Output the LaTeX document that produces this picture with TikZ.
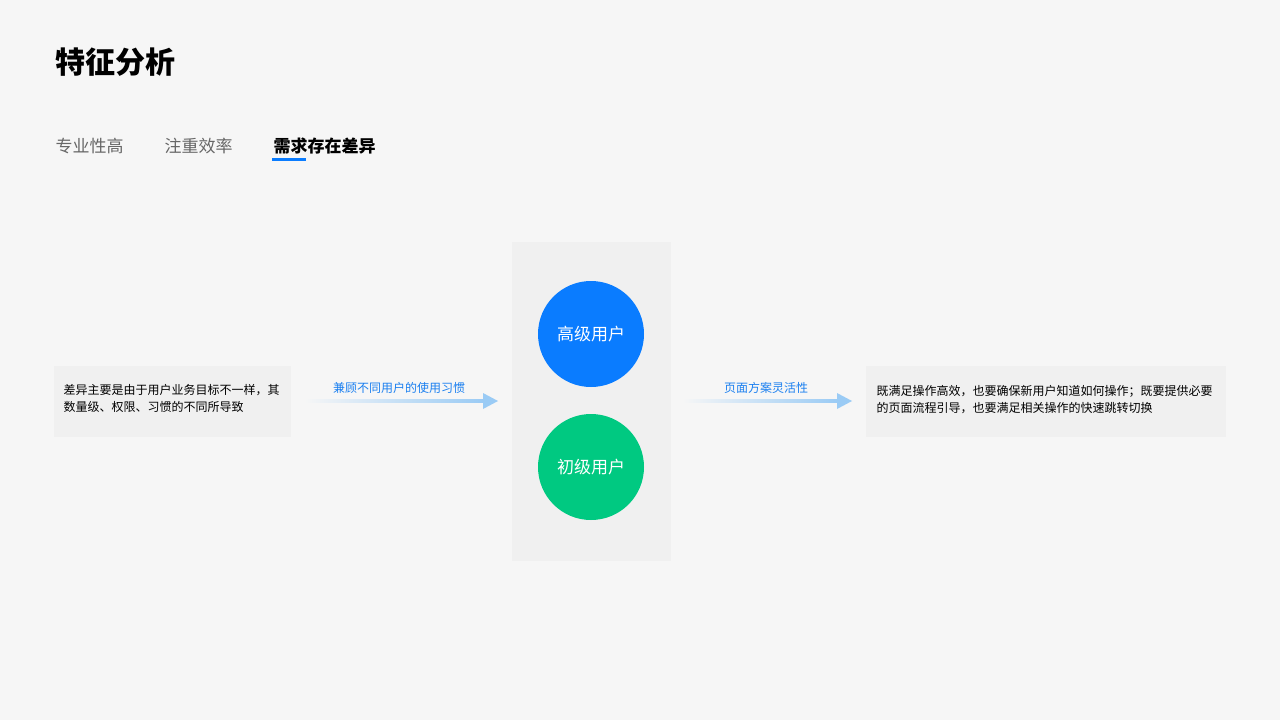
\documentclass[tikz,border=0pt]{standalone}
\usepackage{fontspec}
\newfontfamily\cjk{Noto Sans CJK SC}
\definecolor{bg}{HTML}{F6F6F6}
\definecolor{panel}{HTML}{F0F0F0}
\definecolor{ablue}{HTML}{9ACBF5}
\definecolor{tblue}{HTML}{1A7FF0}
\definecolor{cblue}{HTML}{0A7CFF}
\definecolor{cgreen}{HTML}{00C981}
\definecolor{gray1}{HTML}{666666}
\begin{document}
\begin{tikzpicture}[x=1pt,y=-1pt,
  every node/.style={font=\cjk},
  box/.style={fill=panel,draw=none,inner sep=0},
  circ/.style={circle,minimum size=106pt,inner sep=0,text=white,font=\cjk\fontsize{17}{20}\selectfont},
  tab/.style={anchor=west,font=\cjk\fontsize{17}{20}\selectfont},
  small/.style={font=\cjk\fontsize{12}{17}\selectfont}]
\fill[bg] (0,0) rectangle (1280,720);
\useasboundingbox (0,0) rectangle (1280,720);
\node[anchor=west,font=\cjk\bfseries\fontsize{30}{34}\selectfont] (title) at (52,62) {特征分析};
\node[tab,text=gray1] (t1) at (52,146) {专业性高};
\node[tab,text=gray1] (t2) at (161,146) {注重效率};
\node[tab,text=black,font=\cjk\bfseries\fontsize{17}{20}\selectfont] (t3) at (270,146) {需求存在差异};
\fill[cblue] (272,158) rectangle (306,161);
% left box
\fill[panel] (54,366) rectangle (291,437);
\node[small,anchor=north west,align=left,text width=230pt] (lt) at (60,381) {差异主要是由于用户业务目标不一样，其\\数量级、权限、习惯的不同所导致};
% middle panel
\fill[panel] (512,242) rectangle (671,561);
\node[circ,fill=cblue] (hi) at (591,334) {高级用户};
\node[circ,fill=cgreen] (lo) at (591,467) {初级用户};
% arrows
\shade[left color=bg,right color=ablue] (305,399.5) rectangle (484,402.5);
\fill[ablue] (483,393) -- (498,401) -- (483,409) -- cycle;
\node[small,text=tblue] (l1) at (399,388) {兼顾不同用户的使用习惯};
\shade[left color=bg,right color=ablue] (683,399.5) rectangle (838,402.5);
\fill[ablue] (837,393) -- (852,401) -- (837,409) -- cycle;
\node[small,text=tblue] (l2) at (766,388) {页面方案灵活性};
% right box
\fill[panel] (866,366) rectangle (1226,437);
\node[small,anchor=north west,align=left,text width=350pt] (rt) at (873,382) {既满足操作高效，也要确保新用户知道如何操作；既要提供必要\\的页面流程引导，也要满足相关操作的快速跳转切换};
\end{tikzpicture}
\end{document}
